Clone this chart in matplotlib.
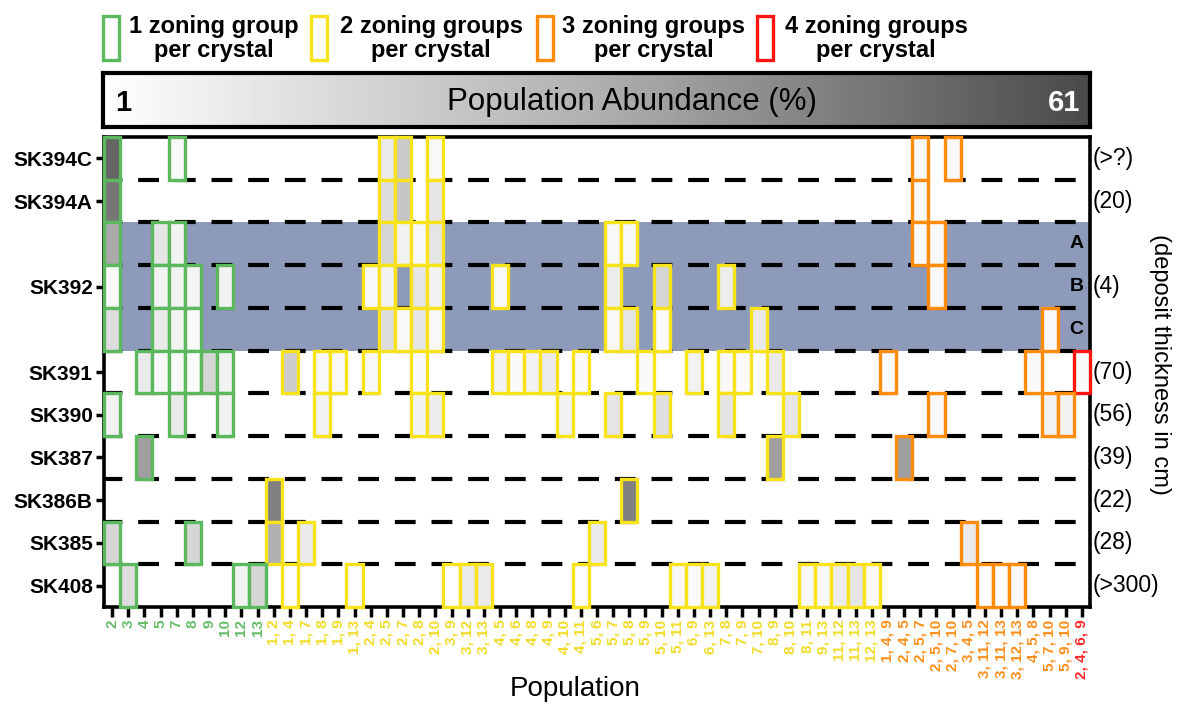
import matplotlib
matplotlib.use("Agg")
import matplotlib.pyplot as plt
import numpy as np
from matplotlib.colors import LinearSegmentedColormap, Normalize
from matplotlib.patches import Rectangle

plt.rcParams["font.family"] = ["Liberation Sans", "DejaVu Sans"]

# populations (x axis), grouped by number of zoning groups per crystal
populations = ["2", "3", "4", "5", "7", "8", "9", "10", "12", "13",
               "1, 2", "1, 4", "1, 7", "1, 8", "1, 9", "1, 13", "2, 4", "2, 5",
               "2, 7", "2, 8", "2, 10", "3, 9", "3, 12", "3, 13", "4, 5", "4, 6",
               "4, 8", "4, 9", "4, 10", "4, 11", "5, 6", "5, 7", "5, 8", "5, 9",
               "5, 10", "5, 11", "6, 9", "6, 13", "7, 8", "7, 9", "7, 10", "8, 9",
               "8, 10", "8, 11", "9, 13", "11, 12", "11, 13", "12, 13",
               "1, 4, 9", "2, 4, 5", "2, 5, 7", "2, 5, 10", "2, 7, 10", "3, 4, 5",
               "3, 11, 12", "3, 11, 13", "3, 12, 13", "4, 5, 8", "5, 7, 10",
               "5, 9, 10", "2, 4, 6, 9"]
zoning_groups = [1] * 10 + [2] * 38 + [3] * 12 + [4]

sample_labels = ["SK394C", "SK394A", "", "SK392", "", "SK391", "SK390",
                 "SK387", "SK386B", "SK385", "SK408"]
sub_units = ["", "", "A", "B", "C", "", "", "", "", "", ""]
thickness = ["(>?)", "(20)", "", "(4)", "", "(70)", "(56)", "(39)", "(22)",
             "(28)", "(>300)"]

# population abundance (%) per sample; None = outline only
sk394c = {"2": 53, "7": 4, "2, 5": 9, "2, 7": 21, "2, 10": 4,
          "2, 5, 7": 4, "2, 7, 10": 4}
sk394a = {"2": 48, "2, 5": 14, "2, 7": 23, "2, 10": 11, "2, 5, 7": 4}
sk392a = {"2": 33, "5": 11, "7": 6, "2, 5": 17, "2, 7": 6, "2, 8": 4,
          "2, 10": 11, "5, 7": 4, "5, 8": 4, "2, 5, 7": 4, "2, 5, 10": 4}
sk392b = {"2": 3, "5": 6, "7": 6, "8": 5, "10": 6, "2, 4": 4, "2, 5": 6,
          "2, 7": None, "2, 8": 11, "2, 10": 6, "4, 5": 4, "5, 7": 8,
          "5, 10": 17, "7, 8": 8, "2, 5, 10": 4}
sk392c = {"2": 14, "5": 9, "7": 6, "8": 4, "2, 5": 14, "2, 7": 4, "2, 8": 11,
          "2, 10": 4, "5, 7": 4, "5, 8": 11, "5, 10": 3, "7, 10": 9,
          "5, 7, 10": 4}
sk391 = {"4": 9, "5": 4, "7": 4, "8": 3, "9": 17, "10": 6, "1, 4": 20,
         "1, 8": 4, "1, 9": 4, "2, 4": 4, "2, 8": 3, "4, 5": 6, "4, 6": 3,
         "4, 8": 6, "4, 9": 9, "4, 11": 3, "5, 9": 3, "6, 9": 6, "7, 8": 4,
         "7, 9": 3, "8, 9": 9, "1, 4, 9": 3, "4, 5, 8": 3, "2, 4, 6, 9": 3}
sk390 = {"2": 6, "7": 9, "10": 6, "1, 8": 6, "2, 8": 6, "2, 10": 8,
         "4, 10": 6, "5, 7": 11, "5, 10": 13, "7, 8": 11, "8, 10": 11,
         "2, 5, 10": 4, "5, 7, 10": 6, "5, 9, 10": 6}
sk387 = {"4": 36, "8, 9": 36, "2, 4, 5": 36}
sk386b = {"1, 2": 45, "5, 8": 45}
sk385 = {"2": 17, "8": 17, "1, 2": 31, "1, 7": 9, "5, 6": 9, "3, 4, 5": 9}
sk408 = {"3": 14, "12": 6, "13": 17, "1, 4": 2, "1, 13": 2, "3, 9": 2,
         "3, 12": 9, "3, 13": 9, "4, 11": 2, "5, 11": 4, "6, 9": 3,
         "6, 13": 6, "8, 11": 4, "9, 13": 4, "11, 12": 8, "11, 13": 11,
         "12, 13": 3, "3, 11, 12": 2, "3, 11, 13": 2, "3, 12, 13": 4}
abundance = [sk394c, sk394a, sk392a, sk392b, sk392c, sk391, sk390, sk387,
             sk386b, sk385, sk408]

edge_colors = {1: "#5cb85f", 2: "#f7e21c", 3: "#ff8c0a", 4: "#ff1414"}
label_colors = {1: "#66bd68", 2: "#f2dc2a", 3: "#ff8f1a", 4: "#ff2a2a"}

cmap = LinearSegmentedColormap.from_list(
    "abund", [(0.0, "#ffffff"), (0.5, "#b0b0b0"), (1.0, "#4a4a4a")])
norm = Normalize(1, 61)

W, H = 1178, 706
fig = plt.figure(figsize=(W / 100, H / 100), dpi=100)
ax = fig.add_axes([104 / W, 1 - 607 / H, 986 / W, 470 / H])

n_rows = len(sample_labels)
ax.set_xlim(-0.5, len(populations) - 0.5)
ax.set_ylim(n_rows - 0.5, -0.5)

# SK392 sub-units band
ax.axhspan(1.5, 4.5, color="#8e9aba", zorder=0, lw=0)
for b in np.arange(0.5, n_rows - 1):
    ax.axhline(b, color="black", lw=3, ls=(0.6, (5.0, 3.8)), zorder=1)

for r, row in enumerate(abundance):
    for pop, val in row.items():
        c = populations.index(pop)
        fc = "none" if val is None else cmap(norm(val))
        ax.add_patch(Rectangle((c - 0.5, r - 0.5), 1, 1, facecolor=fc,
                               edgecolor=edge_colors[zoning_groups[c]],
                               lw=2.4, zorder=3, clip_on=False))

for r, s in enumerate(sub_units):
    if s:
        ax.text(59.65, r, s, ha="center", va="center", fontsize=14,
                fontweight="bold", zorder=4)

for sp in ax.spines.values():
    sp.set_linewidth(2.6)
    sp.set_zorder(2.5)

ax.set_xticks(range(len(populations)))
ax.set_xticklabels(populations, rotation=90, fontsize=11, fontweight="bold")
for lab, g in zip(ax.get_xticklabels(), zoning_groups):
    lab.set_color(label_colors[g])
ax.tick_params(axis="x", length=7, width=2.5, pad=2)

ytick_rows = [i for i, s in enumerate(sample_labels) if s]
ax.set_yticks(ytick_rows)
ax.set_yticklabels([sample_labels[i] for i in ytick_rows], fontsize=15,
                   fontweight="bold")
ax.tick_params(axis="y", length=6, width=2.5, pad=2)

for r, t in enumerate(thickness):
    if t:
        ax.annotate(t, xy=(1.0, r), xycoords=("axes fraction", "data"),
                    xytext=(2, 0), textcoords="offset points", ha="left",
                    va="center", fontsize=16.5)

fig.text(1160 / W, 1 - 364 / H, "(deposit thickness in cm)", rotation=-90,
         ha="center", va="center", fontsize=17)
fig.text(575 / W, 1 - 689 / H, "Population", ha="center", va="center",
         fontsize=20)

# abundance colour bar
cax = fig.add_axes([103 / W, 1 - 127 / H, 987 / W, 54 / H])
cax.imshow(np.linspace(1, 61, 256)[None, :], aspect="auto", cmap=cmap,
           norm=norm, extent=[1, 61, 0, 1])
cax.set_xticks([])
cax.set_yticks([])
for sp in cax.spines.values():
    sp.set_linewidth(3)
cax.text(0.012, 0.45, "1", transform=cax.transAxes, ha="left", va="center",
         fontsize=21, fontweight="bold")
cax.text(0.536, 0.47, "Population Abundance (%)", transform=cax.transAxes,
         ha="center", va="center", fontsize=22.5)
cax.text(0.99, 0.45, "61", transform=cax.transAxes, ha="right",
         va="center", fontsize=21, fontweight="bold", color="white")

# legend of zoning groups
legend_items = [(103, 214, 1, "1 zoning group"),
                (311, 431, 2, "2 zoning groups"),
                (537, 654, 3, "3 zoning groups"),
                (757, 876, 4, "4 zoning groups")]
for x0, xc, g, txt in legend_items:
    fig.add_artist(Rectangle((x0 / W, 1 - 60 / H), 16 / W, 44 / H,
                             transform=fig.transFigure, fill=False,
                             ec=edge_colors[g], lw=2.4))
    fig.text(xc / W, 1 - 26 / H, txt, ha="center", va="center",
             fontsize=17, fontweight="bold")
    fig.text(xc / W, 1 - 51 / H, "per crystal", ha="center", va="center",
             fontsize=17, fontweight="bold")

fig.savefig("out.png", dpi=100)
